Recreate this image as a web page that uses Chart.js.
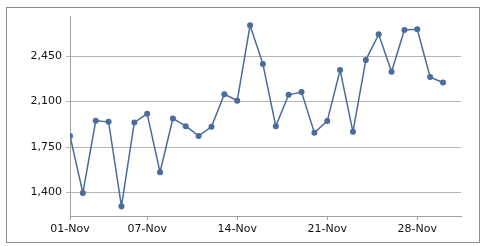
<!DOCTYPE html>
<html>
<head>
<meta charset="utf-8">
<script src="https://cdn.jsdelivr.net/npm/chart.js@4/dist/chart.umd.min.js"></script>
<style>
    html, body { margin: 0; padding: 0; background: #ffffff; }
    #wrap { position: relative; width: 485px; height: 246px; }
    #frame { position: absolute; left: 6px; top: 7px; width: 472px; height: 234px; border: 1px solid #8c8c8c; }
    #myChart { position: absolute; left: 0; top: 0; }
</style>
</head>
<body>
<div id="wrap">
    <div id="frame"></div>
    <canvas id="myChart" width="485" height="246"></canvas>
</div>
<script>
const days = [1, 2, 3, 4, 5, 6, 7, 8, 9, 10, 11, 12, 13, 14, 15,
    16, 17, 18, 19, 20, 21, 22, 23, 24, 25, 26, 27, 28, 29, 30]
const values = [1836, 1397, 1952, 1944, 1295, 1939, 2006, 1557, 1970, 1911,
    1836, 1906, 2157, 2106, 2686, 2388, 1911, 2152, 2173, 1860,
    1950, 2342, 1867, 2419, 2617, 2329, 2650, 2656, 2288, 2247]
const tickDays = [1, 7, 14, 21, 28]
const tickLabels = ['01-Nov', '07-Nov', '14-Nov', '21-Nov', '28-Nov']
const yTicks = [1400, 1750, 2100, 2450]

const ctx = document.getElementById('myChart').getContext('2d');
const font = { family: 'DejaVu Sans', size: 11 }

const myChart = new Chart(ctx, {
    type: 'line',
    data: {
        datasets: [{
            data: days.map((d, i) => ({ x: d, y: values[i] })),
            borderColor: '#4a6b9c',
            backgroundColor: '#4a6b9c',
            borderWidth: 1.5,
            pointRadius: 3,
            pointBorderWidth: 0,
            pointHoverRadius: 3,
            tension: 0
        }]
    },
    options: {
        responsive: false,
        animation: false,
        plugins: {
            legend: { display: false },
            tooltip: { enabled: false }
        },
        layout: { padding: { left: 0, top: 16, right: 24, bottom: 0 } },
        scales: {
            x: {
                type: 'linear',
                min: 1,
                max: 31.4,
                afterBuildTicks: (scale) => { scale.ticks = tickDays.map(v => ({ value: v })) },
                afterFit: (scale) => { scale.height = 30 },
                ticks: {
                    font: font,
                    color: '#111111',
                    padding: 3,
                    maxRotation: 0,
                    callback: (v) => tickLabels[tickDays.indexOf(v)]
                },
                grid: { drawOnChartArea: false, drawTicks: true, tickLength: 4, color: '#a0a0a0' },
                border: { color: '#a0a0a0' }
            },
            y: {
                min: 1220,
                max: 2758,
                afterBuildTicks: (scale) => { scale.ticks = yTicks.map(v => ({ value: v })) },
                afterFit: (scale) => { scale.width = 70 },
                ticks: {
                    font: font,
                    color: '#111111',
                    padding: 4,
                    callback: (v) => v.toLocaleString('en-US')
                },
                grid: { color: '#b4b4b4', tickLength: 4 },
                border: { color: '#a0a0a0' }
            }
        }
    }
});
</script>
</body>
</html>
